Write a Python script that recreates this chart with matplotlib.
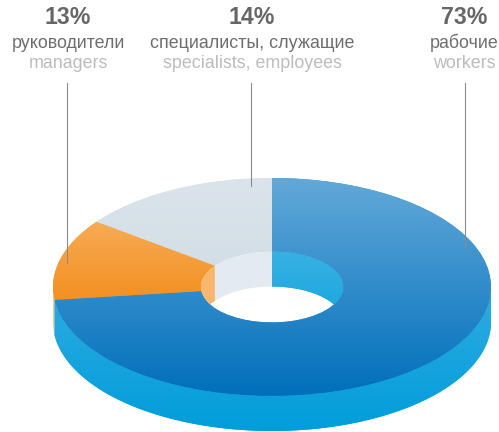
import numpy as np
import matplotlib
matplotlib.use("Agg")
import matplotlib.pyplot as plt
from matplotlib.colors import to_rgb
from matplotlib.patches import Polygon, Ellipse

plt.rcParams['font.family'] = ['Liberation Sans', 'DejaVu Sans']

# left to right as labelled in the picture
pct_labels = ["13%", "14%", "73%"]
ru_labels = ["руководители", "специалисты, служащие", "рабочие"]
en_labels = ["managers", "specialists, employees", "workers"]

# shares as drawn (the slices are not quite the printed numbers)
# order: counterclockwise from 12 o'clock
slice_names = ["specialists", "managers", "workers"]
slice_shares = [14.8, 12.1, 73.1]

W, H = 499, 432
CX, CY = 272, 287      # ring centre, pixels
RX, RY = 219, 109      # ring radii, pixels
DEPTH = 35 / RY
HOLE = 0.325


def px(x):
    return (x - CX) / RX


def py(y):
    return (CY - y) / RY


def grad_fill(ax, patch, top, bottom, y0, y1, z):
    # vertical gradient clipped to a patch, y0/y1 in pixels
    t = np.linspace(0, 1, 256)[:, None, None]
    img = (1 - t) * np.array(to_rgb(top)) + t * np.array(to_rgb(bottom))
    im = ax.imshow(img, extent=(-2, 2, py(y1), py(y0)), aspect='auto', zorder=z,
                   interpolation='bilinear')
    im.set_clip_path(patch)


def band(a0, a1, r, shift=DEPTH):
    # strip between an arc and the same arc moved down by the ring depth
    th = np.radians(np.linspace(a0, a1, 200))
    upper = np.column_stack([r * np.cos(th), r * np.sin(th)])
    lower = (upper - [0, shift])[::-1]
    return np.vstack([upper, lower])


fig = plt.figure(figsize=(W / 100, H / 100), dpi=100)
ax = fig.add_axes([0, 0, 1, 1])

# the axes are stretched, so the unit circle of the pie comes out as the ellipse
wedges, _ = ax.pie(slice_shares, startangle=90, radius=1, colors=["#d7e1e8", "#f49f3a", "#2a88c9"],
                   wedgeprops=dict(width=1 - HOLE, linewidth=0))
ax.set_aspect('auto')
ax.set_xlim(px(0), px(W))
ax.set_ylim(py(H), py(0))
ax.autoscale(False)
ax.axis('off')

a1 = 90 + slice_shares[0] * 3.6
a2 = a1 + slice_shares[1] * 3.6

# outer side of the ring
side_blue = Polygon(band(a2, 360, 1), fc="#0aa3dc", lw=0, zorder=1)
side_orange = Polygon(band(180, a2, 1), fc="#f9c890", lw=0, zorder=1)
ax.add_patch(side_blue)
ax.add_patch(side_orange)
grad_fill(ax, side_blue, "#2fabe0", "#009ddb", 290, 431, 1.5)

# top surface
grad_fill(ax, wedges[0], "#dbe4eb", "#d2dee6", 178, 270, 2)
grad_fill(ax, wedges[1], "#f7ab55", "#f39020", 222, 300, 2)
grad_fill(ax, wedges[2], "#62a9d9", "#006fbb", 178, 396, 2)

# inner wall of the hole, only seen through the hole
hole = Ellipse((0, 0), 2 * HOLE, 2 * HOLE, fc="none", lw=0, zorder=3)
ax.add_patch(hole)
wall_spec = Polygon(band(90, a1, HOLE), fc="#e3eaf1", lw=0, zorder=3)
wall_orange = Polygon(band(a1, a2 + 40, HOLE), fc="#f8b76e", lw=0, zorder=3)
for w in (wall_spec, wall_orange):
    ax.add_patch(w)
    w.set_clip_path(hole)

# blue wall: arc down to where it meets its moved copy, so the gradient can clip to it
meet = np.degrees(np.arcsin(DEPTH / (2 * HOLE)))
th_up = np.radians(np.linspace(-meet, 90, 120))
th_low = np.radians(np.linspace(90, meet, 120))
wall_pts = np.vstack([np.column_stack([HOLE * np.cos(th_up), HOLE * np.sin(th_up)]),
                      np.column_stack([HOLE * np.cos(th_low), HOLE * np.sin(th_low) - DEPTH])])
wall_blue = Polygon(wall_pts, fc="#2bade2", lw=0, zorder=3)
ax.add_patch(wall_blue)
grad_fill(ax, wall_blue, "#38b1e4", "#1fa8df", 252, 306, 3.2)

# labels and leader lines in pixel coordinates
ax2 = fig.add_axes([0, 0, 1, 1])
ax2.set_xlim(0, W)
ax2.set_ylim(H, 0)
ax2.axis('off')
ax2.patch.set_alpha(0)

label_x = [68, 252, 464]
line_x = [67.5, 251, 465]
line_end = [263, 186, 248]
for i in range(3):
    ax2.text(label_x[i], 18, pct_labels[i], ha='center', va='center', fontsize=16.7,
             fontweight='bold', color="#666666")
    ax2.text(label_x[i], 43, ru_labels[i], ha='center', va='center', fontsize=12.9, color="#6e6e6e")
    ax2.text(label_x[i], 64, en_labels[i], ha='center', va='center', fontsize=12.9, color="#bcbcbc")
    ax2.plot([line_x[i], line_x[i]], [83, line_end[i]], color="#8c8c8c", lw=0.8)

fig.savefig("out.png", dpi=100)
